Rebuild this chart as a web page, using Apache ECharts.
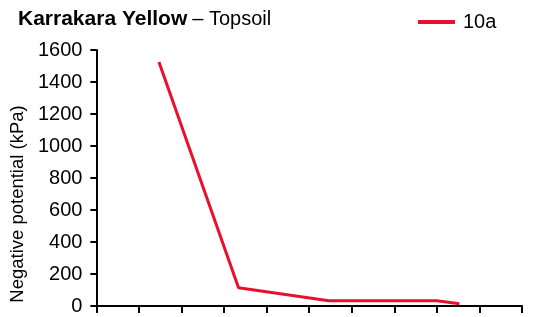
<!DOCTYPE html>
<html>
<head>
<meta charset="utf-8">
<script src="https://cdn.jsdelivr.net/npm/echarts@6/dist/echarts.min.js"></script>
<style>html,body{margin:0;padding:0;background:#fff}#c{width:538px;height:317px}</style>
</head>
<body>
<div id="c"></div>
<script>
var seriesName = '10a';
var xValues = [1.47, 3.34, 5.46, 8.0, 8.53];
var yValues = [1525, 114, 33, 33, 14];
var yMin = 0, yMax = 1600, yStep = 200;
var xMin = 0, xMax = 10, xStep = 1;

var chart = echarts.init(document.getElementById('c'), null, {renderer: 'canvas'});
var FONT = '"Liberation Sans", Arial, sans-serif';
var RED = '#e8102e';
chart.setOption({
  animation: false,
  backgroundColor: '#fff',
  title: {
    text: '{b|Karrakara Yellow} {n|– Topsoil}',
    left: 18, top: 9, padding: 0,
    textStyle: {
      rich: {
        b: {fontFamily: FONT, fontWeight: 'bold', fontSize: 21, color: '#000'},
        n: {fontFamily: FONT, fontWeight: 'normal', fontSize: 20, color: '#000'}
      }
    }
  },
  legend: {
    data: [{name: seriesName, icon: 'rect'}],
    left: 418, top: 12, padding: 0,
    itemWidth: 37, itemHeight: 4, itemGap: 8,
    textStyle: {fontFamily: FONT, fontSize: 20, color: '#000', padding: [0,0,0,3]}
  },
  grid: {left: 95, right: 16, top: 50, bottom: 11, containLabel: false},
  xAxis: {
    type: 'value', min: xMin, max: xMax, interval: xStep,
    axisLine: {show: true, lineStyle: {color: '#000', width: 2}},
    axisTick: {show: true, inside: false, length: 7, lineStyle: {color: '#000', width: 2}},
    axisLabel: {show: false},
    splitLine: {show: false}
  },
  yAxis: {
    type: 'value', min: yMin, max: yMax, interval: yStep,
    name: 'Negative potential (kPa)',
    nameLocation: 'middle', nameGap: 68,
    nameTextStyle: {fontFamily: FONT, fontSize: 18.5, color: '#000', padding: [0, 52, 0, 0]},
    axisLine: {show: true, lineStyle: {color: '#000', width: 2}},
    axisTick: {show: true, inside: false, length: 6, lineStyle: {color: '#000', width: 2}},
    axisLabel: {fontFamily: FONT, fontSize: 20, color: '#000', margin: 14,
      formatter: function (v) { return String(v); }},
    splitLine: {show: false}
  },
  series: [{
    name: seriesName,
    type: 'line',
    data: xValues.map(function (x, i) { return [x, yValues[i]]; }),
    showSymbol: false,
    symbol: 'none',
    lineStyle: {color: RED, width: 3},
    itemStyle: {color: RED}
  }]
});
</script>
</body>
</html>
